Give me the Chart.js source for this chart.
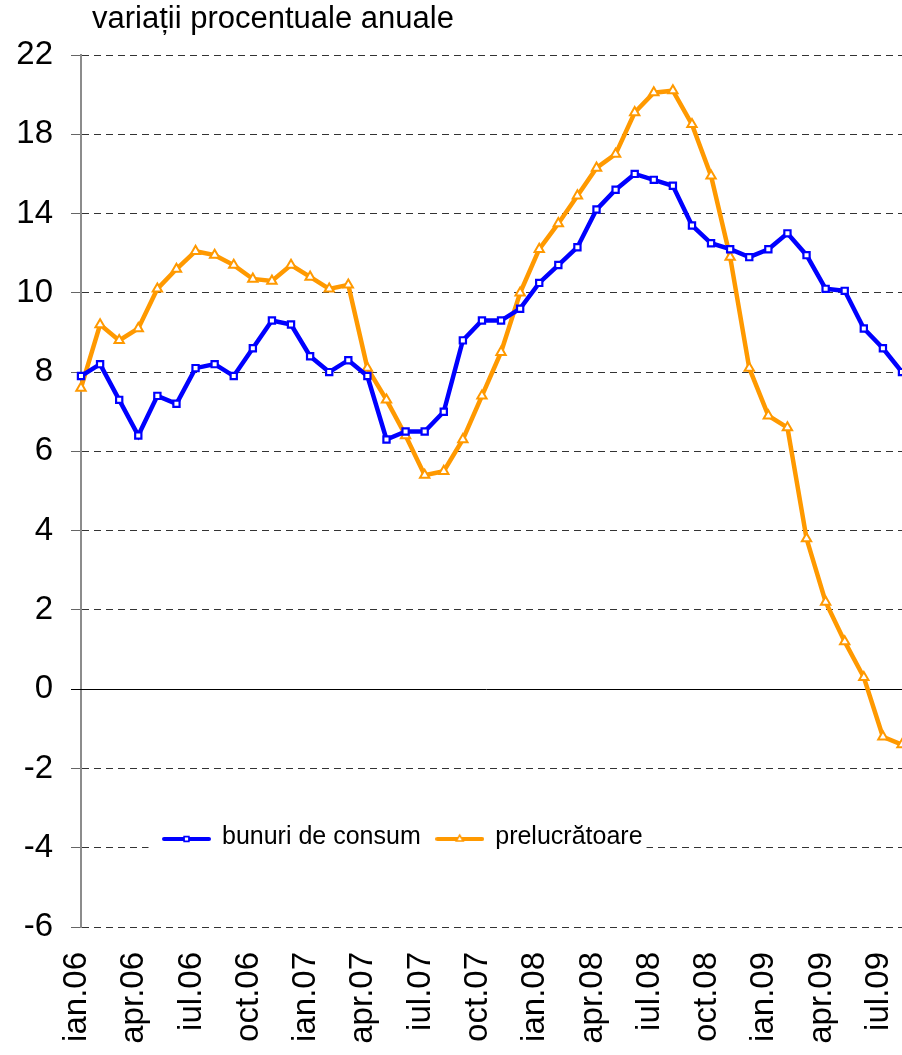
<!DOCTYPE html>
<html>
<head>
<meta charset="utf-8">
<script src="https://cdn.jsdelivr.net/npm/chart.js@4.4.1/dist/chart.umd.min.js"></script>
<style>
  html, body { margin: 0; padding: 0; background: #fff; }
  #chart { display: block; }
</style>
</head>
<body>
<canvas id="chart" width="902" height="1055"></canvas>
<script>
// luni, ian.06 - aug.09
const categories = [
  'ian.06','feb.06','mar.06','apr.06','mai.06','iun.06','iul.06','aug.06','sep.06','oct.06','noi.06','dec.06',
  'ian.07','feb.07','mar.07','apr.07','mai.07','iun.07','iul.07','aug.07','sep.07','oct.07','noi.07','dec.07',
  'ian.08','feb.08','mar.08','apr.08','mai.08','iun.08','iul.08','aug.08','sep.08','oct.08','noi.08','dec.08',
  'ian.09','feb.09','mar.09','apr.09','mai.09','iun.09','iul.09','aug.09'
];

// variatii procentuale anuale
const bunuriDeConsum = [
  7.9, 8.2, 7.3, 6.4, 7.4, 7.2, 8.1, 8.2, 7.9, 8.6, 9.3, 9.2,
  8.4, 8.0, 8.3, 7.9, 6.3, 6.5, 6.5, 7.0, 8.8, 9.3, 9.3, 9.6,
  10.5, 11.4, 12.3, 14.2, 15.2, 16.0, 15.7, 15.4, 13.4, 12.5, 12.2, 11.8,
  12.2, 13.0, 11.9, 10.2, 10.1, 9.1, 8.6, 8.0
];
const prelucratoare = [
  7.6, 9.2, 8.8, 9.1, 10.2, 11.2, 12.1, 11.9, 11.4, 10.7, 10.6, 11.4,
  10.8, 10.2, 10.4, 8.1, 7.3, 6.4, 5.4, 5.5, 6.3, 7.4, 8.5, 10.0,
  12.2, 13.5, 14.9, 16.3, 17.0, 19.1, 20.1, 20.2, 18.5, 15.9, 11.8, 8.1,
  6.9, 6.6, 3.8, 2.2, 1.2, 0.3, -1.2, -1.4
];

const yTickLabels = [-6, -4, -2, 0, 2, 4, 6, 8, 10, 14, 18, 22];
const xTickEvery = 3;

// axa e comprimata peste 10: 4 puncte sus ocupa cat 2 puncte jos
const toAxis = v => v <= 10 ? v : 10 + (v - 10) / 2;
const fromAxis = p => p <= 10 ? p : 10 + (p - 10) * 2;

const FONT = "'Liberation Sans', Arial, sans-serif";

// mostra din legenda: linie cu marker la mijloc
function legendSprite(color, style, radius, bw) {
  const c = document.createElement('canvas');
  c.width = 49; c.height = 14;
  const g = c.getContext('2d');
  g.strokeStyle = color;
  g.lineWidth = 4;
  g.lineCap = 'round';
  g.beginPath(); g.moveTo(2, 9); g.lineTo(47, 9); g.stroke();
  g.fillStyle = '#FFFFFF';
  g.lineWidth = bw;
  Chart.helpers.drawPoint(g, { pointStyle: style, radius: radius, borderWidth: bw, rotation: 0 }, 24.5, 9);
  return c;
}
const sprites = [
  legendSprite('#0000FF', 'rect', 3.4, 1.6),
  legendSprite('#FF9900', 'triangle', 4, 1.5)
];

const layoutFix = {
  id: 'layoutFix',
  afterLayout(chart) {
    chart.titleBlock.left = 92;
    // etichetele axei x pot cobori pana la marginea de jos
    chart.scales.x.bottom = chart.height;
    const lg = chart.legend;
    const dx = 147.5 - lg.left, dy = 808.5 - lg.top;
    lg.left += dx; lg.right += dx; lg.top += dy; lg.bottom += dy;
  },
  beforeDatasetsDraw(chart) {
    // linia lui zero, continua
    const { ctx, chartArea, scales } = chart;
    const y0 = Math.round(scales.y.getPixelForValue(0)) + 0.5;
    ctx.save();
    ctx.strokeStyle = '#000000';
    ctx.lineWidth = 1;
    ctx.beginPath();
    ctx.moveTo(chartArea.left - 10, y0);
    ctx.lineTo(chartArea.right, y0);
    ctx.stroke();
    ctx.restore();
  },
  afterDatasetsDraw(chart) {
    // fundal alb sub legenda, apoi legenda deasupra
    const { ctx } = chart;
    const lg = chart.legend;
    const boxes = lg.legendHitBoxes;
    const last = boxes[boxes.length - 1];
    const pad = lg.options.labels.padding;
    const itemH = lg.options.labels.font.size;
    ctx.save();
    ctx.fillStyle = '#FFFFFF';
    ctx.fillRect(lg.left + 1, lg.top + pad - 8, last.left + last.width + 4 - lg.left - 1, itemH + 16);
    ctx.restore();
    lg.draw();
  }
};

new Chart(document.getElementById('chart').getContext('2d'), {
  type: 'line',
  data: {
    labels: categories,
    datasets: [{
      label: 'bunuri de consum',
      data: bunuriDeConsum.map(toAxis),
      borderColor: '#0000FF',
      backgroundColor: '#0000FF',
      borderWidth: 4.5,
      tension: 0,
      pointStyle: 'rect',
      pointRadius: 4.4,
      pointBorderWidth: 2.2,
      pointBackgroundColor: '#FFFFFF',
      pointBorderColor: '#0000FF'
    }, {
      label: 'prelucrătoare',
      data: prelucratoare.map(toAxis),
      borderColor: '#FF9900',
      backgroundColor: '#FF9900',
      borderWidth: 4.5,
      tension: 0,
      pointStyle: 'triangle',
      pointRadius: 5.4,
      pointBorderWidth: 2,
      pointBackgroundColor: '#FFFFFF',
      pointBorderColor: '#FF9900'
    }]
  },
  options: {
    responsive: false,
    animation: false,
    events: [],
    layout: { autoPadding: false },
    scales: {
      x: {
        grid: { display: false, drawTicks: false },
        border: { display: false },
        ticks: {
          autoSkip: false,
          minRotation: 90,
          maxRotation: 90,
          padding: 25,
          labelOffset: -4,
          color: '#000000',
          font: { family: FONT, size: 33 },
          callback: (v, i) => i % xTickEvery === 0 ? categories[i] : ''
        },
        afterFit(s) {
          s.height = 128 - (s.chart.legend ? s.chart.legend.height : 0);
          s.paddingLeft = 0;
          s.paddingRight = 0;
        }
      },
      y: {
        min: toAxis(-6),
        max: toAxis(22),
        afterBuildTicks(s) {
          s.ticks = yTickLabels.map(v => ({ value: toAxis(v) }));
        },
        afterFit(s) { s.width = 81; },
        grid: {
          color: '#333333',
          lineWidth: 1,
          tickLength: 10,
          tickColor: '#666666',
          tickWidth: 1
        },
        border: { display: true, color: '#8C8C8C', width: 2, dash: [7, 5] },
        ticks: {
          padding: 18,
          color: '#000000',
          font: { family: FONT, size: 33 },
          callback: v => String(Math.round(fromAxis(v)))
        }
      }
    },
    plugins: {
      title: {
        display: true,
        text: 'variații procentuale anuale',
        align: 'start',
        color: '#000000',
        font: { family: FONT, size: 31, weight: 'normal' },
        padding: { top: 1, bottom: 16.8 }
      },
      legend: {
        position: 'bottom',
        align: 'start',
        labels: {
          usePointStyle: true,
          pointStyleWidth: 46,
          padding: 16,
          color: '#000000',
          font: { family: FONT, size: 25 },
          generateLabels(chart) {
            const items = Chart.defaults.plugins.legend.labels.generateLabels(chart);
            items.forEach(it => { it.pointStyle = sprites[it.datasetIndex]; });
            return items;
          }
        }
      },
      tooltip: { enabled: false }
    }
  },
  plugins: [layoutFix]
});
</script>
</body>
</html>
